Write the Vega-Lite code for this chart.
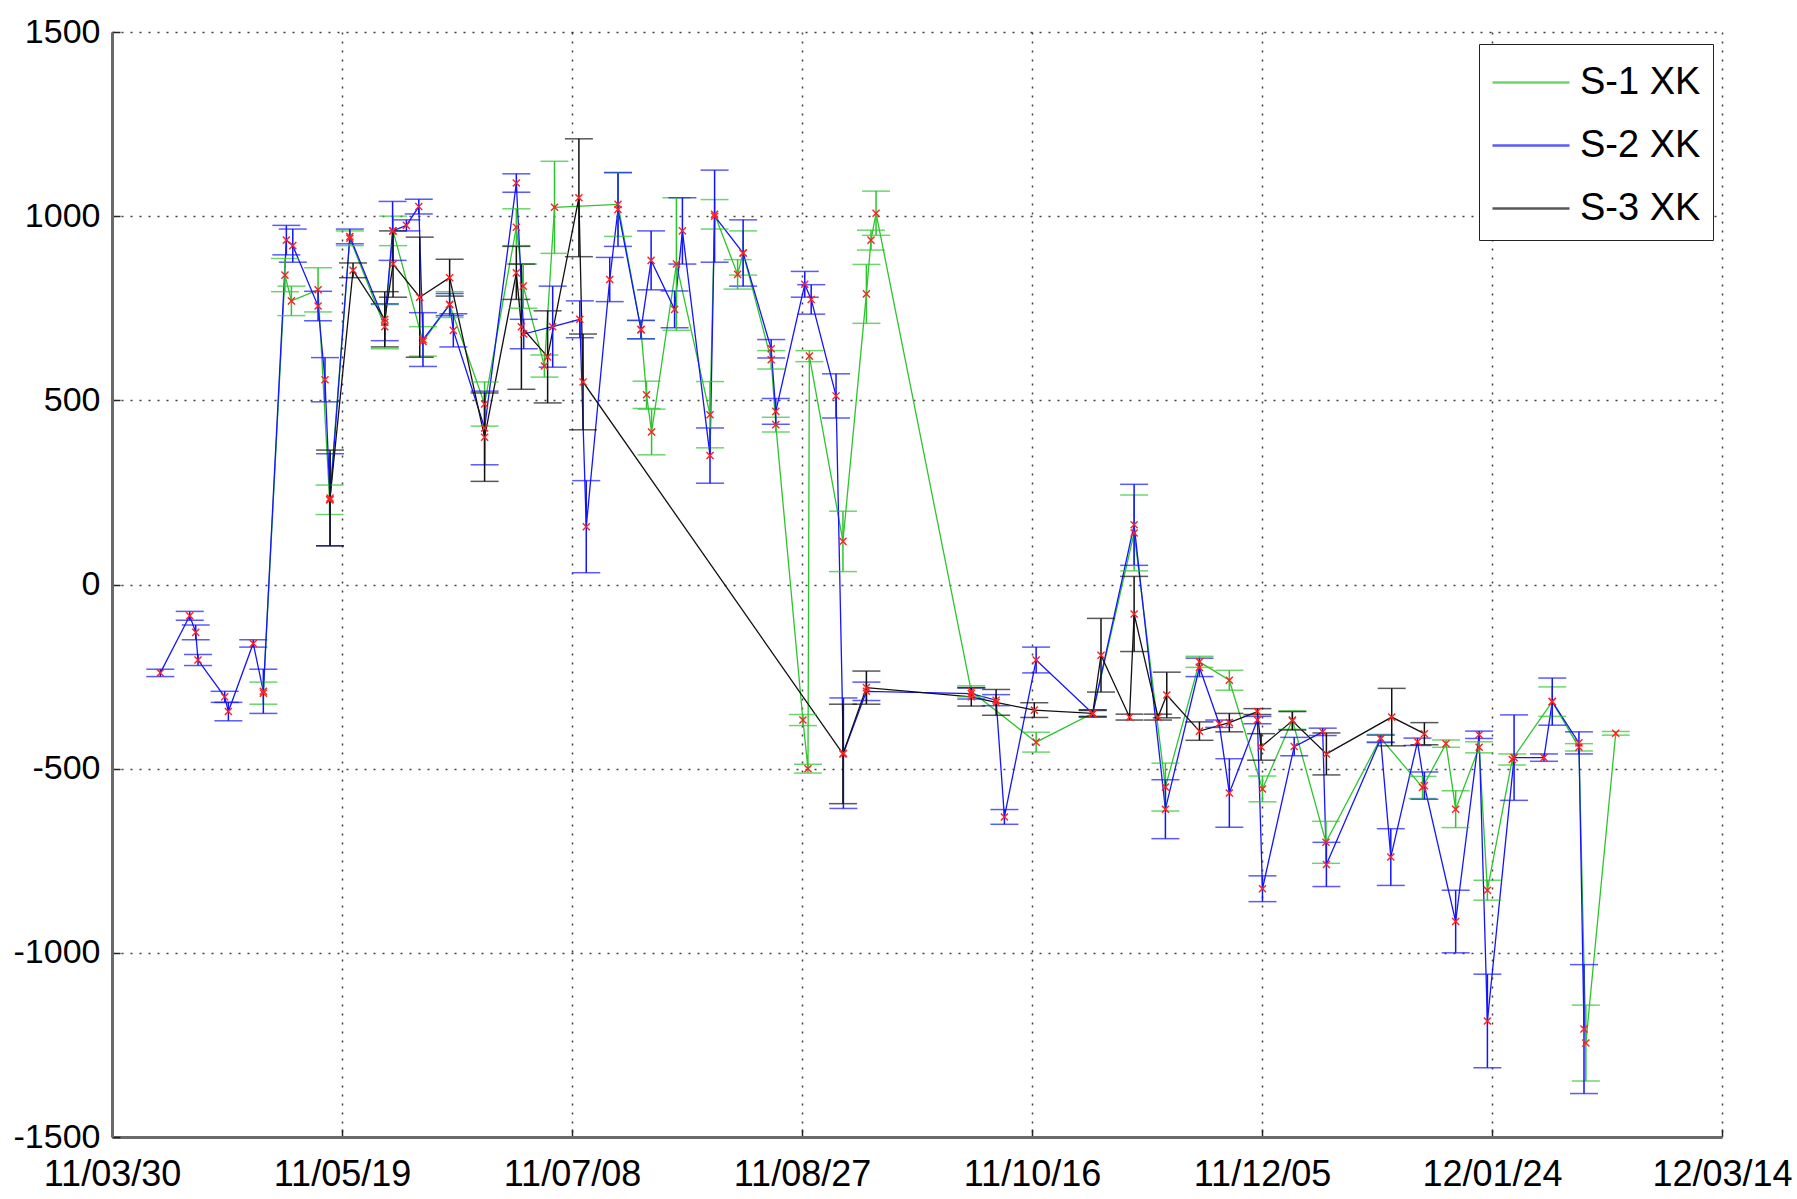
{
"$schema":"https://vega.github.io/schema/vega-lite/v6.json",
"width":1610,"height":1105,
"autosize":{"type":"none"},
"padding":{"left":112,"top":32,"right":75,"bottom":62},
"background":"white",
"config":{"view":{"stroke":null},"font":"Liberation Sans"},
"data":{"values":[
{"s":"S-1 XK","day":32.9,"v":-295,"e":30},{"s":"S-1 XK","day":37.6,"v":840,"e":45},{"s":"S-1 XK","day":39,"v":770,"e":40},{"s":"S-1 XK","day":44.8,"v":800,"e":60},{"s":"S-1 XK","day":47.3,"v":230,"e":40},{"s":"S-1 XK","day":51.7,"v":940,"e":20},{"s":"S-1 XK","day":59.3,"v":700,"e":60},{"s":"S-1 XK","day":61.1,"v":960,"e":40},{"s":"S-1 XK","day":67.6,"v":660,"e":40},{"s":"S-1 XK","day":73.4,"v":760,"e":35},{"s":"S-1 XK","day":81,"v":490,"e":60},{"s":"S-1 XK","day":87.9,"v":970,"e":50},{"s":"S-1 XK","day":89.4,"v":810,"e":60},{"s":"S-1 XK","day":94,"v":593,"e":30},{"s":"S-1 XK","day":96.2,"v":1024,"e":125},{"s":"S-1 XK","day":110,"v":1032,"e":87},{"s":"S-1 XK","day":115,"v":692,"e":25},{"s":"S-1 XK","day":116.2,"v":515,"e":37},{"s":"S-1 XK","day":117.3,"v":414,"e":62},{"s":"S-1 XK","day":122.7,"v":870,"e":180},{"s":"S-1 XK","day":130,"v":461,"e":90},{"s":"S-1 XK","day":131,"v":1005,"e":40},{"s":"S-1 XK","day":136,"v":842,"e":40},{"s":"S-1 XK","day":137.2,"v":900,"e":60},{"s":"S-1 XK","day":143.3,"v":610,"e":25},{"s":"S-1 XK","day":144.3,"v":434,"e":20},{"s":"S-1 XK","day":150.2,"v":-368,"e":15},{"s":"S-1 XK","day":151.3,"v":-500,"e":12},{"s":"S-1 XK","day":151.6,"v":620,"e":15},{"s":"S-1 XK","day":158.9,"v":117,"e":82},{"s":"S-1 XK","day":164,"v":789,"e":80},{"s":"S-1 XK","day":165,"v":935,"e":27},{"s":"S-1 XK","day":166.1,"v":1008,"e":60},{"s":"S-1 XK","day":186.8,"v":-290,"e":15},{"s":"S-1 XK","day":200.9,"v":-428,"e":27},{"s":"S-1 XK","day":213.2,"v":-350,"e":10},{"s":"S-1 XK","day":222.2,"v":140,"e":103},{"s":"S-1 XK","day":229,"v":-550,"e":65},{"s":"S-1 XK","day":236.4,"v":-210,"e":15},{"s":"S-1 XK","day":242.9,"v":-260,"e":27},{"s":"S-1 XK","day":250.1,"v":-555,"e":35},{"s":"S-1 XK","day":256.6,"v":-368,"e":25},{"s":"S-1 XK","day":263.9,"v":-700,"e":57},{"s":"S-1 XK","day":275.8,"v":-417,"e":10},{"s":"S-1 XK","day":284.9,"v":-551,"e":30},{"s":"S-1 XK","day":290,"v":-432,"e":10},{"s":"S-1 XK","day":292.1,"v":-610,"e":50},{"s":"S-1 XK","day":297.2,"v":-442,"e":15},{"s":"S-1 XK","day":299,"v":-830,"e":27},{"s":"S-1 XK","day":304.4,"v":-475,"e":15},{"s":"S-1 XK","day":313.1,"v":-318,"e":40},{"s":"S-1 XK","day":318.9,"v":-442,"e":10},{"s":"S-1 XK","day":320.4,"v":-1245,"e":103},{"s":"S-1 XK","day":326.9,"v":-404,"e":5},
{"s":"S-2 XK","day":10.5,"v":-240,"e":10},{"s":"S-2 XK","day":16.9,"v":-85,"e":12},{"s":"S-2 XK","day":18.2,"v":-130,"e":20},{"s":"S-2 XK","day":18.7,"v":-205,"e":15},{"s":"S-2 XK","day":24.5,"v":-305,"e":15},{"s":"S-2 XK","day":25.3,"v":-345,"e":25},{"s":"S-2 XK","day":30.7,"v":-160,"e":10},{"s":"S-2 XK","day":32.9,"v":-290,"e":60},{"s":"S-2 XK","day":37.9,"v":935,"e":40},{"s":"S-2 XK","day":39.3,"v":920,"e":45},{"s":"S-2 XK","day":44.8,"v":756,"e":40},{"s":"S-2 XK","day":46.3,"v":556,"e":60},{"s":"S-2 XK","day":47.4,"v":230,"e":125},{"s":"S-2 XK","day":51.7,"v":945,"e":20},{"s":"S-2 XK","day":59.3,"v":712,"e":50},{"s":"S-2 XK","day":61,"v":960,"e":80},{"s":"S-2 XK","day":64,"v":975,"e":15},{"s":"S-2 XK","day":66.7,"v":1026,"e":20},{"s":"S-2 XK","day":67.6,"v":665,"e":73},{"s":"S-2 XK","day":73.4,"v":760,"e":30},{"s":"S-2 XK","day":74.2,"v":690,"e":45},{"s":"S-2 XK","day":81,"v":425,"e":100},{"s":"S-2 XK","day":87.9,"v":1090,"e":25},{"s":"S-2 XK","day":89.5,"v":680,"e":40},{"s":"S-2 XK","day":95.8,"v":700,"e":110},{"s":"S-2 XK","day":101.7,"v":720,"e":50},{"s":"S-2 XK","day":103.1,"v":157,"e":125},{"s":"S-2 XK","day":108.2,"v":828,"e":60},{"s":"S-2 XK","day":110,"v":1018,"e":100},{"s":"S-2 XK","day":115,"v":692,"e":25},{"s":"S-2 XK","day":117.2,"v":880,"e":80},{"s":"S-2 XK","day":122.3,"v":747,"e":50},{"s":"S-2 XK","day":124,"v":960,"e":90},{"s":"S-2 XK","day":130,"v":350,"e":75},{"s":"S-2 XK","day":131,"v":1000,"e":125},{"s":"S-2 XK","day":137.2,"v":900,"e":90},{"s":"S-2 XK","day":143.3,"v":640,"e":25},{"s":"S-2 XK","day":144.3,"v":470,"e":35},{"s":"S-2 XK","day":150.6,"v":815,"e":35},{"s":"S-2 XK","day":152,"v":774,"e":40},{"s":"S-2 XK","day":157.4,"v":512,"e":60},{"s":"S-2 XK","day":159,"v":-458,"e":150},{"s":"S-2 XK","day":164,"v":-290,"e":25},{"s":"S-2 XK","day":186.8,"v":-296,"e":15},{"s":"S-2 XK","day":192.2,"v":-314,"e":15},{"s":"S-2 XK","day":194,"v":-631,"e":20},{"s":"S-2 XK","day":200.9,"v":-205,"e":35},{"s":"S-2 XK","day":213.2,"v":-350,"e":10},{"s":"S-2 XK","day":222.2,"v":162,"e":110},{"s":"S-2 XK","day":229,"v":-610,"e":80},{"s":"S-2 XK","day":236.4,"v":-225,"e":25},{"s":"S-2 XK","day":240.7,"v":-378,"e":10},{"s":"S-2 XK","day":242.9,"v":-566,"e":93},{"s":"S-2 XK","day":249,"v":-368,"e":10},{"s":"S-2 XK","day":250.1,"v":-826,"e":35},{"s":"S-2 XK","day":257,"v":-440,"e":25},{"s":"S-2 XK","day":263.2,"v":-400,"e":10},{"s":"S-2 XK","day":264,"v":-760,"e":60},{"s":"S-2 XK","day":275.8,"v":-419,"e":10},{"s":"S-2 XK","day":278,"v":-740,"e":77},{"s":"S-2 XK","day":283.8,"v":-427,"e":10},{"s":"S-2 XK","day":285.3,"v":-546,"e":37},{"s":"S-2 XK","day":292.1,"v":-915,"e":85},{"s":"S-2 XK","day":297.2,"v":-408,"e":10},{"s":"S-2 XK","day":299,"v":-1185,"e":127},{"s":"S-2 XK","day":304.8,"v":-470,"e":116},{"s":"S-2 XK","day":311.3,"v":-470,"e":10},{"s":"S-2 XK","day":313.1,"v":-318,"e":64},{"s":"S-2 XK","day":318.9,"v":-430,"e":30},{"s":"S-2 XK","day":320,"v":-1207,"e":175},
{"s":"S-3 XK","day":47.4,"v":235,"e":130},{"s":"S-3 XK","day":52.4,"v":853,"e":20},{"s":"S-3 XK","day":59.3,"v":720,"e":75},{"s":"S-3 XK","day":61.1,"v":870,"e":90},{"s":"S-3 XK","day":66.9,"v":780,"e":163},{"s":"S-3 XK","day":73.4,"v":833,"e":50},{"s":"S-3 XK","day":81,"v":400,"e":120},{"s":"S-3 XK","day":87.9,"v":846,"e":72},{"s":"S-3 XK","day":89,"v":700,"e":170},{"s":"S-3 XK","day":94.7,"v":618,"e":125},{"s":"S-3 XK","day":101.5,"v":1050,"e":160},{"s":"S-3 XK","day":102.4,"v":550,"e":130},{"s":"S-3 XK","day":158.9,"v":-460,"e":135},{"s":"S-3 XK","day":164,"v":-280,"e":45},{"s":"S-3 XK","day":186.8,"v":-305,"e":25},{"s":"S-3 XK","day":192.2,"v":-320,"e":35},{"s":"S-3 XK","day":200.5,"v":-341,"e":20},{"s":"S-3 XK","day":213.2,"v":-350,"e":8},{"s":"S-3 XK","day":215,"v":-192,"e":100},{"s":"S-3 XK","day":221.2,"v":-360,"e":8},{"s":"S-3 XK","day":222.2,"v":-80,"e":102},{"s":"S-3 XK","day":227.4,"v":-360,"e":8},{"s":"S-3 XK","day":229.3,"v":-300,"e":62},{"s":"S-3 XK","day":236.4,"v":-398,"e":25},{"s":"S-3 XK","day":242.9,"v":-375,"e":25},{"s":"S-3 XK","day":249,"v":-345,"e":8},{"s":"S-3 XK","day":249.8,"v":-441,"e":36},{"s":"S-3 XK","day":256.6,"v":-370,"e":25},{"s":"S-3 XK","day":264,"v":-460,"e":57},{"s":"S-3 XK","day":278.2,"v":-360,"e":78},{"s":"S-3 XK","day":285.3,"v":-405,"e":30}
]},
"encoding":{
 "x":{"field":"day","type":"quantitative","scale":{"domain":[0,350],"nice":false,"zero":false},
  "axis":{"values":[0,50,100,150,200,250,300,350],"labelExpr":"timeFormat(datetime(2011,2,30+datum.value),'%y/%m/%d')","title":null,"grid":true,"gridDash":[2,7],"gridColor":"#000","gridWidth":1.5,"gridOpacity":0.75,"domainColor":"#6a6a6a","domainWidth":3,"tickSize":-8,"tickColor":"#222","tickWidth":1.5,"labelFontSize":36,"labelColor":"#000","labelPadding":28,"labelFlush":false,"labelOverlap":false,"labelBound":false}},
 "y":{"field":"v","type":"quantitative","scale":{"domain":[-1500,1500],"nice":false,"zero":false},
  "axis":{"values":[-1500,-1000,-500,0,500,1000,1500],"labelExpr":"datum.value + ''","title":null,"grid":true,"gridDash":[2,7],"gridColor":"#000","gridWidth":1.5,"gridOpacity":0.75,"domainColor":"#6a6a6a","domainWidth":3,"tickSize":-8,"tickColor":"#222","tickWidth":1.5,"labelFontSize":34,"labelColor":"#000","labelPadding":20,"labelFlush":false,"labelOverlap":false,"labelBound":false}}
},
"layer":[
 {"mark":{"type":"line","strokeWidth":1.3,"clip":true},
  "encoding":{"color":{"field":"s","type":"nominal","scale":{"domain":["S-1 XK","S-2 XK","S-3 XK"],"range":["#2ec42e","#1414ff","#111111"]},
   "legend":{"orient":"none","legendX":1367,"legendY":12,"title":null,"symbolType":"M-1,0H2.08","symbolSize":2500,"symbolStrokeWidth":2.5,"labelFontSize":38,"labelFont":"Liberation Sans","labelColor":"#000","labelOffset":36,"rowPadding":17,"padding":12,"strokeColor":"#222","fillColor":"#fff"}}}},
 {"mark":{"type":"errorbar","ticks":{"size":28},"thickness":1.5},
  "encoding":{"yError":{"field":"e"},"color":{"field":"s","type":"nominal"}}},
 {"mark":{"type":"point","shape":"M-1,-1L1,1M-1,1L1,-1","size":50,"stroke":"#ff2020","strokeWidth":1.4,"filled":false,"opacity":1},"encoding":{}}
]
}
